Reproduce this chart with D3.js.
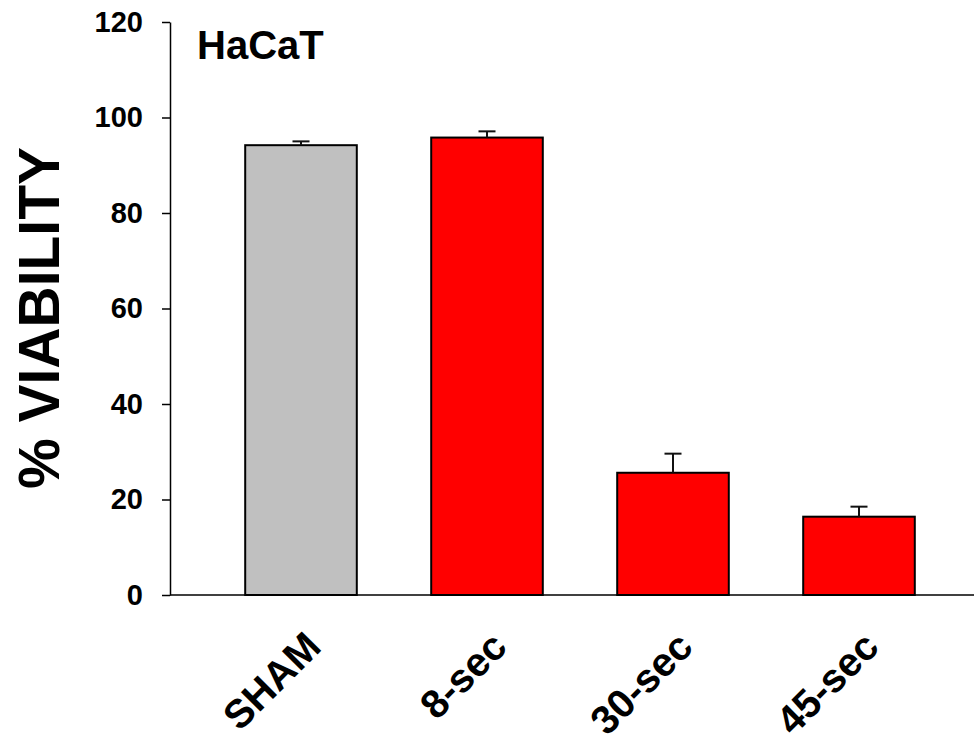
<!DOCTYPE html>
<html>
<head>
<meta charset="utf-8">
<script src="https://cdn.jsdelivr.net/npm/d3@7/dist/d3.min.js"></script>
<style>
  body { margin: 0; background: #fff; }
  svg { display: block; font-family: Arial, "Liberation Sans", sans-serif; font-weight: bold; }
</style>
</head>
<body>
<svg id="chart" width="974" height="752"></svg>
<script>
const categories = ["SHAM", "8-sec", "30-sec", "45-sec"];
const values = [94.2, 95.8, 25.6, 16.4];
const errors = [0.8, 1.3, 4.0, 2.1];
const barColors = ["#c0c0c0", "#ff0000", "#ff0000", "#ff0000"];
const yTicks = [0, 20, 40, 60, 80, 100, 120];
const panelLabel = "HaCaT";
const yTitle = "% VIABILITY";

const svg = d3.select("#chart");
const axisX = 170, axisBottom = 595, axisTop = 22, axisRight = 974;

const y = d3.scaleLinear().domain([0, 120]).range([axisBottom, axisTop]);
const x = d3.scaleBand().domain(categories).range([208, 952]).paddingInner(0.4).paddingOuter(0.2);

const data = categories.map((c, i) => ({ c, v: values[i], e: errors[i], col: barColors[i] }));

// bars
svg.append("g").selectAll("rect").data(data).join("rect")
  .attr("x", d => x(d.c))
  .attr("y", d => y(d.v))
  .attr("width", x.bandwidth())
  .attr("height", d => y(0) - y(d.v))
  .attr("fill", d => d.col)
  .attr("stroke", "#000")
  .attr("stroke-width", 2);

// error bars (upper only)
const eg = svg.append("g").attr("stroke", "#111").attr("stroke-width", 2);
data.forEach(d => {
  const cx = x(d.c) + x.bandwidth() / 2;
  eg.append("line").attr("x1", cx).attr("x2", cx).attr("y1", y(d.v)).attr("y2", y(d.v + d.e));
  eg.append("line").attr("x1", cx - 8.5).attr("x2", cx + 8.5).attr("y1", y(d.v + d.e)).attr("y2", y(d.v + d.e));
});

// y axis
const yAxis = d3.axisLeft(y).tickValues(yTicks).tickSize(8).tickPadding(19).tickSizeOuter(0);
const ga = svg.append("g").attr("transform", `translate(${axisX},0)`).call(yAxis);
ga.select(".domain").attr("stroke", "#000").attr("stroke-width", 1.5);
ga.selectAll(".tick line").attr("stroke", "#000").attr("stroke-width", 1.5);
ga.selectAll(".tick text").attr("font-size", 29).attr("font-weight", "bold")
  .attr("font-family", "Arial, 'Liberation Sans', sans-serif").attr("fill", "#000");

// x axis line
svg.append("line").attr("x1", axisX).attr("x2", axisRight)
  .attr("y1", axisBottom).attr("y2", axisBottom)
  .attr("stroke", "#000").attr("stroke-width", 1.5);

// x labels rotated
svg.append("g").selectAll("text").data(categories).join("text")
  .attr("transform", d => `translate(${x(d) + x.bandwidth() / 2 + 22},${axisBottom + 54}) rotate(-45)`)
  .attr("text-anchor", "end")
  .attr("font-size", 40)
  .attr("fill", "#000")
  .text(d => d);

// panel label
svg.append("text").attr("x", 197).attr("y", 59).attr("font-size", 40).attr("fill", "#000").text(panelLabel);

// y title
svg.append("text")
  .attr("transform", `translate(59,318) rotate(-90)`)
  .attr("text-anchor", "middle")
  .attr("font-size", 57)
  .attr("fill", "#000")
  .text(yTitle);
</script>
</body>
</html>
